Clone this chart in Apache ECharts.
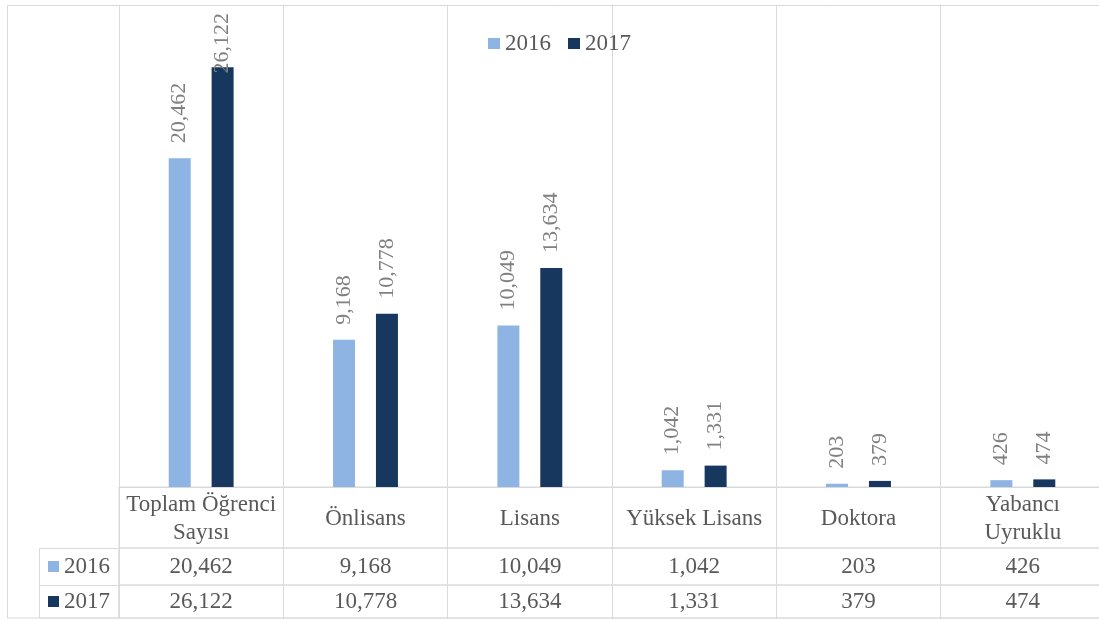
<!DOCTYPE html>
<html>
<head>
<meta charset="utf-8">
<script src="https://cdn.jsdelivr.net/npm/echarts@6/dist/echarts.min.js"></script>
<style>
html,body{margin:0;padding:0;background:#fff;}
#chart{width:1099px;height:621px;}
</style>
</head>
<body>
<div id="chart"></div>
<script>
const categories = ['Toplam Öğrenci Sayısı', 'Önlisans', 'Lisans', 'Yüksek Lisans', 'Doktora', 'Yabancı Uyruklu'];
const years = ['2016', '2017'];
const values2016 = [20462, 9168, 10049, 1042, 203, 426];
const values2017 = [26122, 10778, 13634, 1331, 379, 474];
const yMax = 30000;

const colors = ['#8eb4e3', '#17375e'];
const lineColor = '#d9d9d9';
const font = "'Liberation Serif', 'Times New Roman', serif";
const fmt = v => v.toLocaleString('en-US');
// wrap long category names at their last space, like the table cell does
const wrap = s => {
  if (s.length <= 13) return s;
  const k = s.lastIndexOf(' ');
  return k > 0 ? s.slice(0, k) + '\n' + s.slice(k + 1) : s;
};

const L = 119, W = 986;
const hiddenY = (gi) => ({ type: 'value', gridIndex: gi, show: false, min: 0, max: 1 });
const tableAxis = (gi, formatter, margin, lh) => ({
  type: 'category', gridIndex: gi, data: categories, boundaryGap: true,
  axisLine: { show: false }, axisTick: { show: false },
  splitLine: { show: true, interval: 0, lineStyle: { color: lineColor, width: 1 } },
  axisLabel: {
    show: true, interval: 0, hideOverlap: false, margin: margin,
    verticalAlign: 'middle', align: 'center',
    color: '#595959', fontFamily: font, fontSize: 23, lineHeight: lh,
    formatter: formatter
  }
});

const chart = echarts.init(document.getElementById('chart'), null, { renderer: 'canvas' });
chart.setOption({
  animation: false,
  color: colors,
  graphic: [
    { type: 'rect', silent: true, shape: { x: 7.5, y: 5.5, width: 1110, height: 612.5 }, style: { fill: 'none', stroke: lineColor, lineWidth: 1 } },
    { type: 'rect', silent: true, shape: { x: 39.5, y: 548.5, width: 79.5, height: 37 }, style: { fill: 'none', stroke: lineColor, lineWidth: 1 } },
    { type: 'rect', silent: true, shape: { x: 39.5, y: 585.5, width: 79.5, height: 32.5 }, style: { fill: 'none', stroke: lineColor, lineWidth: 1 } }
  ],
  legend: [
    {
      data: years, left: 488, top: 32, padding: 0, itemWidth: 12, itemHeight: 11, itemGap: 17,
      icon: 'rect', selectedMode: false,
      textStyle: { color: '#595959', fontFamily: font, fontSize: 23, lineHeight: 23 }
    },
    {
      data: years, left: 48, top: 555, height: 70, padding: 0, orient: 'vertical', itemWidth: 11, itemHeight: 11, itemGap: 12,
      icon: 'rect', selectedMode: false,
      textStyle: { color: '#595959', fontFamily: font, fontSize: 23, lineHeight: 23 }
    }
  ],
  grid: [
    { left: L, top: 5, width: W, height: 482, outerBoundsMode: 'none', containLabel: false },
    { left: L, top: 487, width: W, height: 61, show: true, borderColor: lineColor, borderWidth: 1, outerBoundsMode: 'none', containLabel: false },
    { left: L, top: 548, width: W, height: 37, show: true, borderColor: lineColor, borderWidth: 1, outerBoundsMode: 'none', containLabel: false },
    { left: L, top: 585, width: W, height: 33, show: true, borderColor: lineColor, borderWidth: 1, outerBoundsMode: 'none', containLabel: false }
  ],
  xAxis: [
    {
      type: 'category', gridIndex: 0, data: categories, boundaryGap: true,
      axisLine: { show: true, lineStyle: { color: lineColor, width: 1 } },
      axisTick: { show: false }, axisLabel: { show: false },
      splitLine: { show: true, interval: 0, lineStyle: { color: lineColor, width: 1 } }
    },
    tableAxis(1, (v) => wrap(v), -29, 28),
    tableAxis(2, (v, i) => fmt(values2016[i]), -18.5, 23),
    tableAxis(3, (v, i) => fmt(values2017[i]), -16.5, 23)
  ],
  yAxis: [
    { type: 'value', gridIndex: 0, min: 0, max: yMax, show: false, splitLine: { show: false } },
    hiddenY(1), hiddenY(2), hiddenY(3)
  ],
  series: [
    { name: years[0], data: values2016 },
    { name: years[1], data: values2017 }
  ].map(s => ({
    type: 'bar', name: s.name, data: s.data, xAxisIndex: 0, yAxisIndex: 0,
    barWidth: 22, barGap: '95%',
    label: {
      show: true, position: 'top', distance: 15, rotate: 90,
      align: 'left', verticalAlign: 'middle',
      color: '#808080', fontFamily: font, fontSize: 22,
      formatter: p => fmt(p.value)
    },
    labelLayout: function (params) {
      const r = params.labelRect;
      if (r.y < 12) { return { y: 13 + r.height }; }
    }
  }))
});
</script>
</body>
</html>
